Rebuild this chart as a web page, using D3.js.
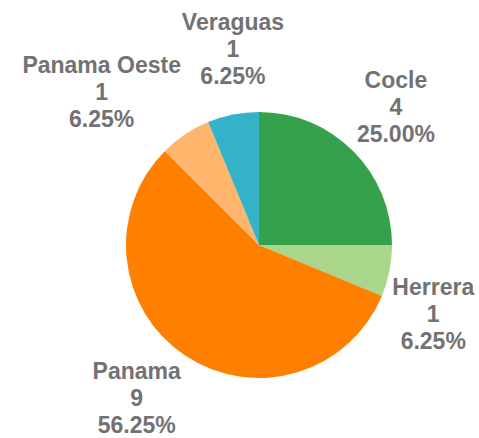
<!DOCTYPE html>
<html>
<head>
<meta charset="utf-8">
<script src="https://cdn.jsdelivr.net/npm/d3@7"></script>
<style>
  html, body { margin: 0; padding: 0; background: #ffffff; }
  svg { display: block; }
</style>
</head>
<body>
<svg id="chart" width="479" height="438"></svg>
<script>
const categories = ["Cocle", "Herrera", "Panama", "Panama Oeste", "Veraguas"];
const counts = [4, 1, 9, 1, 1];
const percentLabels = ["25.00%", "6.25%", "56.25%", "6.25%", "6.25%"];
const sliceColors = ["#35a14c", "#a9d68b", "#ff8000", "#ffb66c", "#34b3c8"];

// layout (not data)
const cx = 259, cy = 245, radius = 133, labelRadius = 195;
const labelNudge = {
  "Cocle": [-1, 0],
  "Herrera": [-17, 31],
  "Panama": [-14, -9],
  "Panama Oeste": [-49, 9],
  "Veraguas": [12, -5]
};

const data = categories.map((c, i) => ({ name: c, value: counts[i], pct: percentLabels[i], color: sliceColors[i] }));

const svg = d3.select("#chart");
const g = svg.append("g").attr("transform", `translate(${cx},${cy})`);

const pie = d3.pie().value(d => d.value).sort(null);
const arc = d3.arc().innerRadius(0).outerRadius(radius);
const labelArc = d3.arc().innerRadius(labelRadius).outerRadius(labelRadius);

const arcs = pie(data);

g.selectAll("path.slice")
  .data(arcs)
  .join("path")
  .attr("class", "slice")
  .attr("d", arc)
  .attr("fill", d => d.data.color)
  .attr("stroke", "none");

const lineH = 27;
const labels = g.selectAll("text.lbl")
  .data(arcs)
  .join("text")
  .attr("class", "lbl")
  .attr("text-anchor", "middle")
  .attr("font-family", "'Liberation Sans', Arial, Helvetica, sans-serif")
  .attr("font-weight", "bold")
  .attr("font-size", "23px")
  .attr("fill", "#727272")
  .attr("transform", d => {
    const [x, y] = labelArc.centroid(d);
    const n = labelNudge[d.data.name] || [0, 0];
    return `translate(${x + n[0]},${y + n[1]})`;
  });

labels.each(function(d) {
  const t = d3.select(this);
  const lines = [d.data.name, String(d.data.value), d.data.pct];
  lines.forEach((s, i) => {
    t.append("tspan")
      .attr("x", 0)
      .attr("y", (i - 1) * lineH + 8)
      .text(s);
  });
});
</script>
</body>
</html>
